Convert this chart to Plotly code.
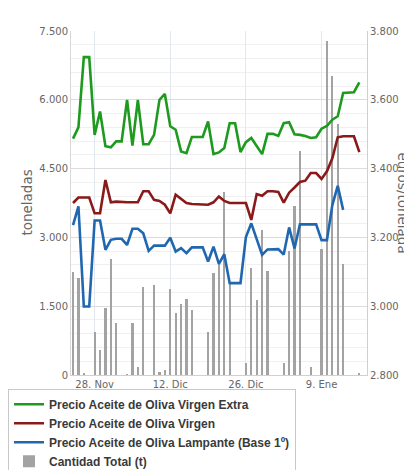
import pandas as pd
import plotly.graph_objects as go

# ---- data ----
start_date = "2011-11-24"
end_date = "2012-01-16"
dates = pd.date_range(start_date, end_date, freq="D")

tick_dates = ["2011-11-28", "2011-12-12", "2011-12-26", "2012-01-09"]
tick_labels = ["28. Nov", "12. Dic", "26. Dic", "9. Ene"]

extra = [3487, 3520, 3724, 3724, 3498, 3566, 3465, 3462, 3479, 3479,
         3600, 3467, 3600, 3471, 3471, 3498, 3600, 3617, 3523, 3513,
         3450, 3445, 3492, 3492, 3492, 3537, 3442, 3447, 3460, 3532,
         3532, 3448, 3477, 3489, 3465, 3442, 3501, 3501, 3495, 3532,
         3535, 3500, 3498, 3495, 3489, 3491, 3516, 3524, 3542, 3552,
         3620, 3622, 3622, 3651]

virgen = [3300, 3316, 3316, 3316, 3270, 3270, 3367, 3302, 3304, 3302,
          3302, 3302, 3302, 3334, 3334, 3309, 3306, 3295, 3270, 3324,
          3312, 3300, 3297, 3297, 3297, 3295, 3302, 3319, 3306, 3300,
          3300, 3300, 3300, 3251, 3326, 3321, 3334, 3334, 3332, 3301,
          3330, 3345, 3361, 3365, 3387, 3387, 3370, 3392, 3430, 3491,
          3494, 3494, 3494, 3448]

lampante = [3236, 3290, 2999, 2999, 3249, 3249, 3164, 3193, 3196, 3196,
            3178, 3225, 3225, 3212, 3161, 3176, 3176, 3176, 3199, 3159,
            3169, 3154, 3171, 3171, 3171, 3130, 3173, 3123, 3151, 3067,
            3067, 3067, 3201, 3241, 3195, 3149, 3165, 3166, 3166, 3150,
            3229, 3168, 3238, 3238, 3238, 3238, 3192, 3192, 3294, 3350,
            3280]

cantidad = [2256, 2125, 30, 0, 947, 546, 1455, 2531, 1128, 0,
            20, 1128, 183, 1914, 0, 1964, 74, 110, 1870, 1346,
            1549, 1651, 1418, 0, 0, 930, 2219, 2453, 3986, 2001,
            0, 0, 255, 2328, 1637, 3164, 2262, 0, 0, 255,
            2693, 3675, 4875, 0, 168, 0, 2743, 7288, 6511, 5470,
            2422, 0, 0, 40]

names = ["Precio Aceite de Oliva Virgen Extra",
         "Precio Aceite de Oliva Virgen",
         "Precio Aceite de Oliva Lampante (Base 1º)",
         "Cantidad Total (t)"]
colors = ["#1e9a1e", "#8a1a1a", "#2067b0", "#a3a3a3"]

fig = go.Figure()

fig.add_trace(go.Bar(
    x=dates, y=cantidad, name=names[3], yaxis="y",
    marker=dict(color=colors[3], line=dict(width=0)),
    width=2.2 / 5.395 * 86400000, legendrank=4,
))

for vals, nm, col, rk in [(extra, names[0], colors[0], 1),
                          (virgen, names[1], colors[1], 2),
                          (lampante, names[2], colors[2], 3)]:
    fig.add_trace(go.Scatter(
        x=dates[:len(vals)], y=vals, name=nm, yaxis="y2", mode="lines",
        line=dict(color=col, width=2.6), legendrank=rk,
    ))

tick_font = dict(family="DejaVu Sans", size=10, color="#666666")

fig.update_layout(
    width=412, height=470,
    margin=dict(l=63, r=53, t=23, b=103, autoexpand=False),
    paper_bgcolor="white", plot_bgcolor="white",
    separators=",.",
    bargap=0,
    xaxis=dict(
        range=["2011-11-23 15:00", "2012-01-17 10:00"],
        tickvals=tick_dates, ticktext=tick_labels,
        tickfont=tick_font, showgrid=True, gridcolor="#e3e8ee",
        showline=True, linecolor="#c8d2dc", ticks="",
        zeroline=False,
    ),
    yaxis=dict(
        range=[0, 7500], dtick=1500, tickformat=",.0f",
        tickfont=tick_font, gridcolor="#dcdcdc", showline=True,
        linecolor="#d8d8d8", zeroline=False, ticks="",
        minor=dict(dtick=300, showgrid=True, gridcolor="#f0f0f0"),
    ),
    yaxis2=dict(
        range=[2800, 3800], dtick=200, tickformat=",.0f",
        overlaying="y", side="right", showgrid=False,
        tickfont=tick_font, showline=True, linecolor="#d0d0d0",
        zeroline=False, ticks="",
    ),
    legend=dict(
        xref="container", yref="container",
        x=0.0, y=0.19, xanchor="left", yanchor="top",
        bordercolor="#c8c8c8", borderwidth=1, bgcolor="white",
        font=dict(family="Liberation Sans", size=12, color="#3a3a3a",
                  weight="bold"),
        traceorder="normal", itemwidth=30,
    ),
    annotations=[
        dict(text="toneladas", xref="paper", yref="paper", x=-0.15, y=0.5,
             xanchor="center", yanchor="middle",
             textangle=-90, showarrow=False,
             font=dict(family="DejaVu Sans", size=13.5, color="#666666")),
        dict(text="euros/tonelada", xref="paper", yref="paper", x=1.12, y=0.5,
             xanchor="center", yanchor="middle",
             textangle=90, showarrow=False,
             font=dict(family="DejaVu Sans", size=13.5, color="#666666")),
    ],
)

fig.write_html("out.html")
